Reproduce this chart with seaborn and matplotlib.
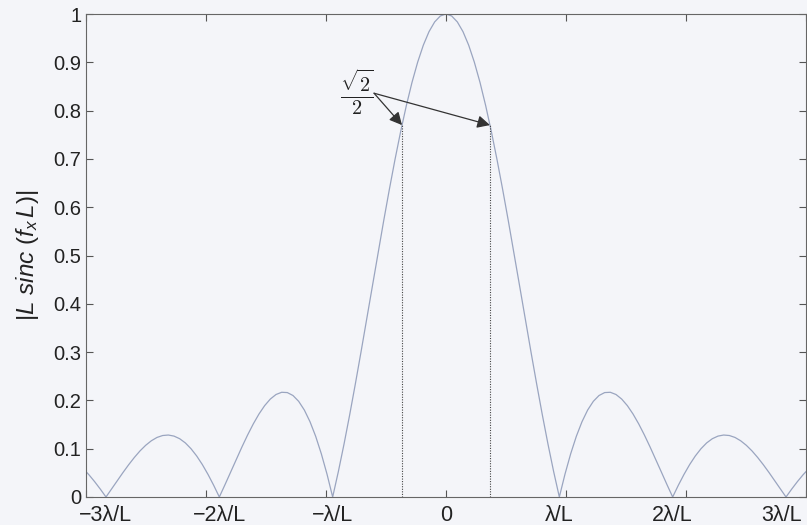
import numpy as np
import matplotlib
matplotlib.use("Agg")
import matplotlib.pyplot as plt
import seaborn as sns
import pandas as pd

# sample positions (units where the curve's zeros fall on integers)
u_pos = [0.00, 0.05, 0.10, 0.15, 0.20, 0.25, 0.30, 0.35, 0.40, 0.45, 0.50, 0.55,
         0.60, 0.65, 0.70, 0.75, 0.80, 0.85, 0.90, 0.95, 1.00, 1.05, 1.10, 1.15,
         1.20, 1.25, 1.30, 1.35, 1.40, 1.45, 1.50, 1.55, 1.60, 1.65, 1.70, 1.75,
         1.80, 1.85, 1.90, 1.95, 2.00, 2.05, 2.10, 2.15, 2.20, 2.25, 2.30, 2.35,
         2.40, 2.45, 2.50, 2.55, 2.60, 2.65, 2.70, 2.75, 2.80, 2.85, 2.90, 2.95,
         3.00, 3.05, 3.10, 3.15, 3.20]
amp_pos = [1.0000, 0.9959, 0.9836, 0.9634, 0.9355, 0.9003, 0.8584, 0.8103, 0.7568, 0.6987,
           0.6366, 0.5716, 0.5046, 0.4363, 0.3679, 0.3001, 0.2339, 0.1700, 0.1093, 0.0524,
           0.0000, 0.0474, 0.0894, 0.1257, 0.1559, 0.1801, 0.1981, 0.2101, 0.2162, 0.2168,
           0.2122, 0.2028, 0.1892, 0.1719, 0.1515, 0.1286, 0.1039, 0.0781, 0.0518, 0.0255,
           0.0000, 0.0243, 0.0468, 0.0672, 0.0850, 0.1000, 0.1120, 0.1207, 0.1261, 0.1283,
           0.1273, 0.1233, 0.1164, 0.1070, 0.0954, 0.0818, 0.0668, 0.0507, 0.0339, 0.0169,
           0.0000, 0.0163, 0.0317, 0.0459, 0.0585]
u_neg = [-v for v in u_pos[:0:-1]]
amp_neg = amp_pos[:0:-1]
u_vals = u_neg + u_pos
amp_vals = amp_neg + amp_pos

tick_labels = ["\u22123\u03bb/L", "\u22122\u03bb/L", "\u2212\u03bb/L", "0",
               "\u03bb/L", "2\u03bb/L", "3\u03bb/L"]
tick_steps = [-3, -2, -1, 0, 1, 2, 3]
label_pos = [-3.0, -2.0, -1.0, 0.0, 1.0, 2.0, 2.96]
y_ticks = [0, 0.1, 0.2, 0.3, 0.4, 0.5, 0.6, 0.7, 0.8, 0.9, 1]
y_tick_labels = ["0", "0.1", "0.2", "0.3", "0.4", "0.5", "0.6", "0.7", "0.8", "0.9", "1"]
marker_u = [-0.388, 0.388]
marker_amp = [0.770, 0.770]

sns.set_style("ticks")
bg = "#f4f5f9"
plt.rcParams["font.family"] = ["Liberation Sans", "DejaVu Sans"]
plt.rcParams["mathtext.fontset"] = "custom"
plt.rcParams["mathtext.rm"] = "Liberation Sans"
plt.rcParams["mathtext.it"] = "Liberation Sans:italic"

fig = plt.figure(figsize=(8.07, 5.25), dpi=100, facecolor=bg)
ax = fig.add_axes([86 / 807, 28 / 525, 720 / 807, 483 / 525], facecolor=bg)

df = pd.DataFrame({"u": u_vals, "amp": amp_vals})
sns.lineplot(data=df, x="u", y="amp", ax=ax, color="#9aa5c0", linewidth=0.9)

for xu, ya in zip(marker_u, marker_amp):
    ax.plot([xu, xu], [0, ya], linestyle=(0, (1.0, 1.3)), color="#444444", linewidth=0.8)

scale = 1.0588
ax.set_xlim(-3 * scale, 3 * scale)
ax.set_ylim(0, 1)
ax.xaxis.remove_overlapping_locs = False
# tick marks
ax.set_xticks([k * scale for k in tick_steps])
ax.set_xticklabels([""] * len(tick_steps))
# tick labels (placed under the zeros of the curve, as in the original)
ax.set_xticks(label_pos, minor=True)
ax.set_xticklabels(tick_labels, minor=True)
ax.set_yticks(y_ticks)
ax.set_yticklabels(y_tick_labels)
ax.tick_params(direction="in", top=True, right=True, length=5, width=0.8,
               color="#555555", labelsize=14.5, labelcolor="#222222")
ax.tick_params(axis="x", which="minor", length=0, pad=6, labelsize=15.5,
               labelcolor="#222222", top=False)
ax.tick_params(axis="y", pad=3.5)
for s in ax.spines.values():
    s.set_visible(True)
    s.set_color("#666666")
    s.set_linewidth(0.8)

ax.set_xlabel("")
ax.set_ylabel(r"$|L\ sinc\ (f_x\, L)|$", fontsize=17.5, color="#222222", labelpad=9)

ax.text(-0.785, 0.838, r"$\frac{\sqrt{2}}{2}$", math_fontfamily="cm", fontsize=21,
        ha="center", va="center", color="#222222")
for xu, ya in zip(marker_u, marker_amp):
    ax.annotate("", xy=(xu, ya), xytext=(-0.635, 0.836),
                arrowprops=dict(arrowstyle="-|>", color="#333333", lw=0.9,
                                mutation_scale=19, shrinkA=0, shrinkB=0))

fig.savefig("out.png", dpi=100, facecolor=bg)
